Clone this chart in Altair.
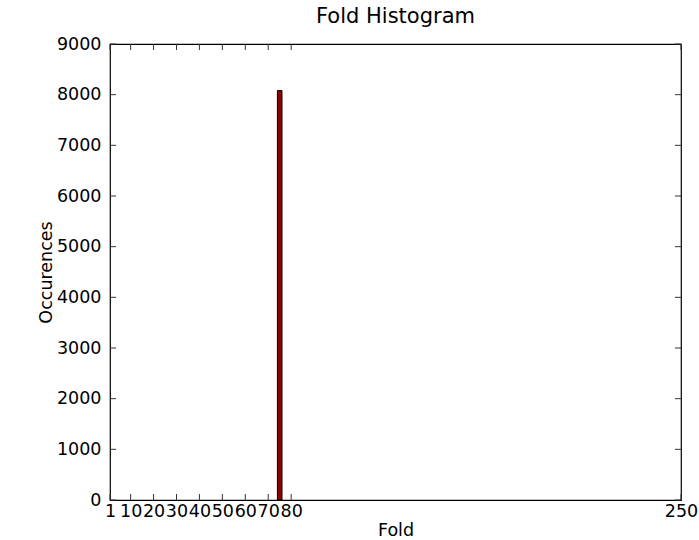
import altair as alt
import pandas as pd

# data
fold_start = [74]
fold_end = [76]
occurrences = [8080]
x_ticks = [1, 10, 20, 30, 40, 50, 60, 70, 80, 250]
y_ticks = [0, 1000, 2000, 3000, 4000, 5000, 6000, 7000, 8000, 9000]

W, H = 571, 456
FONT = "DejaVu Sans"
FS = 17.5
TL = 6

bars = pd.DataFrame({"start": fold_start, "end": fold_end, "count": occurrences,
                     "base": [0] * len(fold_start)})
xt = pd.DataFrame({"start": x_ticks})
yt = pd.DataFrame({"count": y_ticks})

xscale = alt.Scale(domain=[1, 250], nice=False, zero=False)
yscale = alt.Scale(domain=[0, 9000], nice=False, zero=True)

xaxis = alt.Axis(values=x_ticks, title="Fold", grid=False, ticks=False, domain=False,
                 labelFont=FONT, labelFontSize=FS, labelColor="black", labelPadding=2,
                 labelOverlap=False, labelFlush=False, labelBound=False,
                 titleFont=FONT, titleFontSize=FS, titleFontWeight="normal",
                 titleColor="black", titlePadding=2, format="d")
yaxis = alt.Axis(values=y_ticks, title="Occurences", grid=False, ticks=False, domain=False,
                 labelFont=FONT, labelFontSize=FS, labelColor="black", labelPadding=9,
                 labelOverlap=False, labelFlush=False, labelBound=False,
                 titleFont=FONT, titleFontSize=FS, titleFontWeight="normal",
                 titleColor="black", titlePadding=1, format="d")


def X(field):
    return alt.X(field, type="quantitative", scale=xscale, axis=xaxis)


def Y(field):
    return alt.Y(field, type="quantitative", scale=yscale, axis=yaxis)


bar = alt.Chart(bars).mark_rect(fill="#8b0000", stroke="black", strokeWidth=1).encode(
    x=X("start"), x2="end", y=Y("count"), y2="base"
)

tick_style = dict(color="#333333", strokeWidth=1)
bottom_ticks = alt.Chart(xt).mark_rule(**tick_style).encode(
    x=X("start"), y=alt.value(H), y2=alt.value(H - TL))
top_ticks = alt.Chart(xt).mark_rule(**tick_style).encode(
    x=X("start"), y=alt.value(0), y2=alt.value(TL))
left_ticks = alt.Chart(yt).mark_rule(**tick_style).encode(
    y=Y("count"), x=alt.value(0), x2=alt.value(TL))
right_ticks = alt.Chart(yt).mark_rule(**tick_style).encode(
    y=Y("count"), x=alt.value(W), x2=alt.value(W - TL))

chart = alt.layer(bar, bottom_ticks, top_ticks, left_ticks, right_ticks).properties(
    width=W, height=H,
    title=alt.TitleParams("Fold Histogram", font=FONT, fontSize=21, fontWeight="normal",
                          color="black", anchor="middle", offset=8),
    autosize=alt.AutoSizeParams(type="none"),
    padding={"left": 110, "top": 44, "right": 18, "bottom": 40},
    background="white",
).configure_view(stroke="black", strokeWidth=1.2)

chart.save("out.html", embed_options={"renderer": "svg", "actions": False})
